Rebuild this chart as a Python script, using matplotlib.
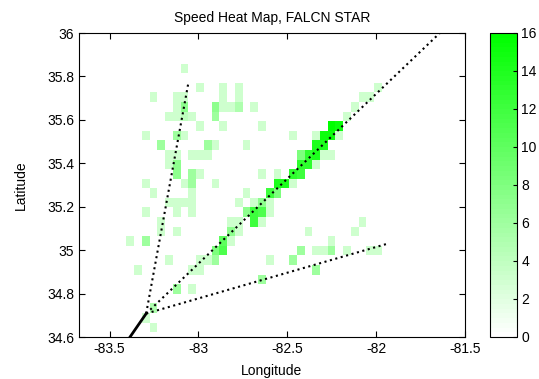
import numpy as np
import matplotlib
matplotlib.use("Agg")
import matplotlib.pyplot as plt
from matplotlib.colors import LinearSegmentedColormap

plt.rcParams['font.family'] = ['Liberation Sans', 'DejaVu Sans']

# binned grid (cells): column index, row index counted from top, value
cell_col = [5, 7, 10, 10, 12, 12, 1, 4, 5, 4, 5, 9, 10, 11, 12, 14,
            3, 4, 5, 6, 9, 7, 10, 15, 0, 4, 5, 19, 2, 8, 9, 13,
            3, 4, 6, 7, 8, 3, 4, 4, 6, 7, 15, 17, 6, 0, 5, 9, 1,
            3, 4, 5, 6, 6, 6, 4, 0, 2, 2, 4, -2, 0, 3, -1, 1, 0, 1,
            # diagonal band
            4, 6, 6, 7, 7, 8, 9, 9, 10, 10, 11, 11, 12, 11, 12, 14, 15,
            13, 14, 15, 16, 12, 14, 15, 16, 13, 16, 17, 17, 18, 19,
            19, 20, 20, 21, 22, 20, 21, 22, 23, 24, 22, 23,
            22, 23, 24, 25, 24, 25, 26, 27, 28, 29, 30,
            # lower right
            28, 27, 21, 24, 20, 22, 23, 24, 26, 29, 30, 16, 19, 22, 15]
cell_row = [0, 2, 2, 3, 2, 3, 3, 3, 3, 4, 4, 4, 4, 4, 4, 4,
            5, 5, 5, 5, 5, 6, 6, 6, 7, 7, 7, 7, 8, 8, 8, 8,
            9, 9, 9, 9, 9, 10, 10, 11, 11, 11, 11, 11, 12, 12, 12, 12, 13,
            14, 14, 14, 14, 13, 15, 15, 15, 16, 17, 17, 18, 18, 20, 21, 25, 26, 27,
            23, 23, 21, 21, 20, 20, 20, 19, 19, 18, 18, 17, 17, 16, 16, 16, 16,
            15, 15, 15, 15, 14, 14, 14, 14, 13, 13, 13, 12, 12, 12,
            11, 11, 10, 10, 10, 9, 9, 9, 9, 9, 8, 8,
            7, 7, 7, 7, 6, 6, 5, 4, 3, 3, 2,
            16, 17, 17, 18, 19, 19, 19, 19, 19, 19, 19, 20, 20, 21, 22]
cell_val = [3, 3, 3, 3, 3, 3, 3, 3, 3, 3, 7, 7, 3, 3, 5, 3,
            3, 3, 4, 3, 6, 3, 3, 3, 3, 6, 3, 3, 6, 6, 3, 3,
            3, 3, 3, 3, 3, 3, 7, 7, 6, 3, 3, 3, 6, 3, 3, 3, 3,
            3, 3, 3, 3, 3, 3, 3, 3, 3, 3, 3, 3, 6, 3, 3, 5, 3, 3,
            6, 3, 3, 3, 3, 3, 6, 8, 11, 10, 3, 7, 3, 3, 3, 12, 3,
            7, 12, 11, 3, 3, 3, 7, 3, 3, 12, 8, 14, 14, 3,
            13, 12, 13, 13, 3, 8, 13, 14, 3, 3, 14, 14,
            3, 15, 15, 3, 16, 15, 3, 3, 3, 3, 3,
            3, 3, 3, 3, 6, 3, 3, 6, 3, 3, 3, 3, 6, 6, 6]

# grid geometry (degrees)
lon0, dlon = -83.3187, 0.0436
lat_top, dlat = 35.8594, 0.0442
col_min, n_cols = -3, 38
n_rows = 30

# flight paths: shared start, three dotted ends
start_lon, start_lat = -83.294, 34.708
ground_lon, ground_lat = -83.385, 34.6
end_lon = [-83.056, -81.639, -81.943]
end_lat = [35.773, 36.002, 35.028]

x_ticks = [-83.5, -83, -82.5, -82, -81.5]
x_labels = ['-83.5', '-83', '-82.5', '-82', '-81.5']
y_ticks = [34.6, 34.8, 35, 35.2, 35.4, 35.6, 35.8, 36]
y_labels = ['34.6', '34.8', '35', '35.2', '35.4', '35.6', '35.8', '36']
cbar_ticks = [0, 2, 4, 6, 8, 10, 12, 14, 16]

H = np.zeros((n_rows, n_cols))
for c, r, v in zip(cell_col, cell_row, cell_val):
    H[n_rows - 1 - r, c - col_min] = v
lon_edges = lon0 + dlon * np.arange(col_min, col_min + n_cols + 1)
lat_edges = lat_top - dlat * np.arange(n_rows, -1, -1)

cmap = LinearSegmentedColormap.from_list('wg', [(1, 1, 1), (0, 1, 0)], N=64)

fig = plt.figure(figsize=(5.39, 3.79), dpi=100)
ax = fig.add_axes([79 / 539, 42 / 379, 386 / 539, 304 / 379])
mesh = ax.pcolormesh(lon_edges, lat_edges, H, cmap=cmap, vmin=0, vmax=16,
                     shading='flat', antialiased=False, zorder=1)

for ex, ey in zip(end_lon, end_lat):
    ax.plot([start_lon, ex], [start_lat, ey], color='black', lw=1.5,
            linestyle=(0, (1, 1.7)), zorder=3)
ax.plot([ground_lon, start_lon], [ground_lat, start_lat], color='black', lw=2, zorder=3)

ax.set_xlim(-83.672, -81.5)
ax.set_ylim(34.6, 36)
ax.set_xticks(x_ticks)
ax.set_xticklabels(x_labels)
ax.set_yticks(y_ticks)
ax.set_yticklabels(y_labels)
ax.tick_params(direction='in', top=True, right=True, length=4, labelsize=10, width=0.8)
ax.set_xlabel('Longitude', fontsize=10, labelpad=6)
ax.set_ylabel('Latitude', fontsize=10, labelpad=14)
ax.set_title('Speed Heat Map, FALCN STAR', fontsize=10, pad=8)

cax = fig.add_axes([489.5 / 539, 42 / 379, 27 / 539, 304 / 379])
cb = fig.colorbar(mesh, cax=cax, ticks=cbar_ticks)
cb.ax.tick_params(direction='in', length=3, labelsize=10, width=0.8)
cb.outline.set_linewidth(0.8)

fig.savefig('out.png', dpi=100)
